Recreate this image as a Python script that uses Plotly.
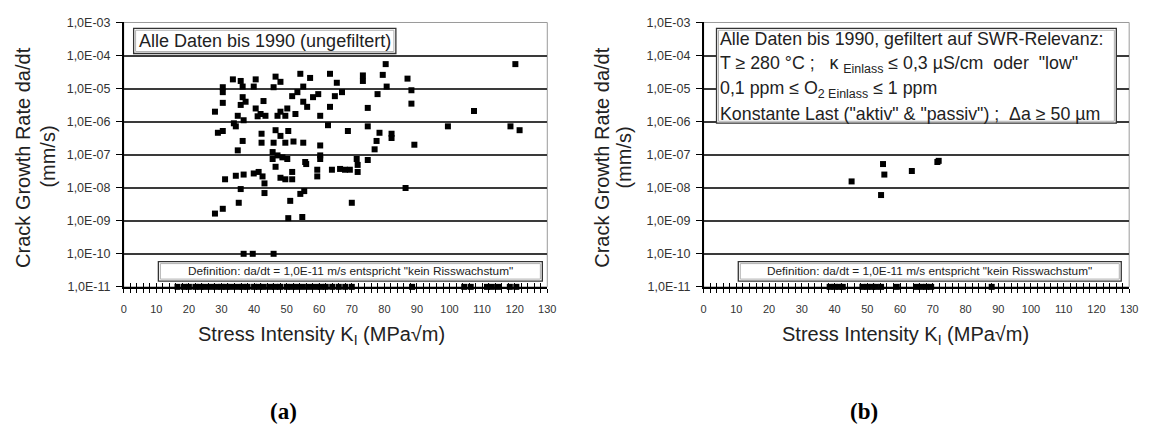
import plotly.graph_objects as go

W, H = 1156, 442

# ---------------- DATA ----------------
no_growth = 1.0e-11  # da/dt used for "kein Risswachstum"

# Panel (a): all data up to 1990 (unfiltered)
a_K = [80.4, 120.2, 79.5, 73.4, 73.4, 87.1, 80.7, 88.3, 77.9, 88.3,
       74.9, 107.5, 99.5, 118.7, 121.5, 74.9, 68.8, 78.5, 82.2, 82.2,
       89.2, 77.6, 77.0, 60.3, 62.7, 60.3, 71.5, 74.9,
       30.4, 30.4, 33.5, 35.9, 36.5, 40.5, 39.9, 46.6, 48.1, 46.0,
       54.2, 57.2, 55.1, 63.3, 65.4, 67.0, 64.8, 63.3, 51.7, 53.3,
       58.1, 59.7, 55.1, 56.3, 60.3, 48.1, 47.2, 49.6, 52.7, 50.2,
       42.9, 43.5, 42.0, 40.5, 37.4, 36.5, 30.4, 28.0, 35.0, 33.8,
       34.4, 36.8, 41.1, 28.9, 30.4, 36.5, 35.0, 42.3, 42.3, 46.6,
       50.5, 46.0, 49.6, 52.1, 55.1, 45.7, 47.2, 50.2, 55.7, 48.1,
       35.9,
       31.1, 34.4, 36.8, 39.9, 41.4, 42.6, 43.2, 43.2, 35.9, 35.3,
       28.0, 30.4, 46.6, 45.7, 48.7, 49.6, 48.1, 51.7, 51.7, 56.0,
       60.3, 59.4, 59.4, 63.9, 66.4, 67.9, 69.4, 71.8, 71.8, 54.2,
       55.4, 51.1, 54.8, 50.5, 70.0, 86.5,
       36.8, 39.6, 46.0]
a_rate = [5.5e-5, 5.5e-5, 2.6e-5, 2.5e-5, 1.7e-5, 2.0e-5, 1.15e-5, 8.9e-6, 6.8e-6, 3.5e-6,
          2.6e-6, 2.1e-6, 7.2e-7, 7.2e-7, 5.5e-7, 7.2e-7, 5.2e-7, 4.6e-7, 4.3e-7, 3.2e-7,
          2.0e-7, 2.6e-7, 1.45e-7, 1.9e-7, 7.8e-7, 9.5e-8, 7.4e-8, 6.9e-8,
          1.1e-5, 7.8e-6, 1.9e-5, 1.7e-5, 1.15e-5, 1.9e-5, 1.15e-5, 2.3e-5, 1.6e-5, 1.1e-5,
          2.8e-5, 2.1e-5, 1.15e-5, 2.8e-5, 1.5e-5, 7.8e-6, 5.9e-6, 2.8e-6, 5.9e-6, 7.8e-6,
          5.5e-6, 6.8e-6, 4.0e-6, 2.8e-6, 1.5e-6, 2.0e-6, 1.5e-6, 1.5e-6, 1.7e-6, 2.5e-6,
          4.2e-6, 1.5e-6, 1.7e-6, 2.5e-6, 4.0e-6, 5.5e-6, 3.7e-6, 2.0e-6, 1.5e-6, 8.9e-7,
          7.2e-7, 1.1e-6, 1.45e-6, 4.6e-7, 5.2e-7, 2.6e-7, 1.35e-7, 4.3e-7, 2.3e-7, 5.5e-7,
          5.2e-7, 2.3e-7, 2.3e-7, 2.5e-7, 2.3e-7, 1.2e-7, 9.5e-8, 7.4e-8, 6.0e-8, 3.7e-7,
          3.2e-6,
          1.8e-8, 2.3e-8, 2.5e-8, 2.7e-8, 3.0e-8, 2.2e-8, 1.35e-8, 6.9e-9, 9.1e-9, 3.5e-9,
          1.65e-9, 2.3e-9, 4.3e-8, 7.4e-8, 8.3e-8, 1.8e-8, 2.0e-8, 3.0e-8, 1.8e-8, 5.2e-8,
          7.4e-8, 3.5e-8, 2.2e-8, 3.5e-8, 3.7e-8, 3.5e-8, 3.5e-8, 4.9e-8, 3.0e-8, 6.5e-9,
          7.9e-9, 4.0e-9, 1.3e-9, 1.2e-9, 3.5e-9, 9.8e-9,
          1.0e-10, 1.0e-10, 1.0e-10]
# Panel (a): specimens without crack growth (plotted at 1,0E-11)
a_zero_K = [16.5, 18.5, 20.0, 22.0, 23.5, 25.0, 27.0, 28.5, 30.0, 31.5,
            33.0, 35.0, 36.5, 38.0, 40.0, 41.5, 43.0, 45.0, 46.5, 48.0,
            50.0, 51.5, 53.0, 55.0, 57.0, 59.0, 60.5, 62.0, 64.0, 66.0,
            68.0, 70.0, 88.5, 104.5, 106.5, 111.5, 113.0, 115.0, 118.5, 120.5]

# Panel (b): filtered for BWR relevance
b_K = [45.2, 54.8, 55.2, 54.2, 63.6, 71.8, 71.4]
b_rate = [1.55e-8, 5.2e-8, 2.5e-8, 6.0e-9, 3.2e-8, 6.5e-8, 6.0e-8]
b_zero_K = [38.5, 40.0, 41.5, 42.5, 48.5, 50.0, 51.5, 52.5, 54.2, 59.0,
            65.0, 66.5, 68.0, 69.5, 88.0]

y_tickvals = [1e-11, 1e-10, 1e-9, 1e-8, 1e-7, 1e-6, 1e-5, 1e-4, 1e-3]
y_ticktext = ["1,0E-11", "1,0E-10", "1,0E-09", "1,0E-08", "1,0E-07",
              "1,0E-06", "1,0E-05", "1,0E-04", "1,0E-03"]
x_range = [0, 130]

# ---------------- FIGURE ----------------
SANS = "Liberation Sans, Arial, sans-serif"
SERIF = "Liberation Serif, Times New Roman, serif"


def px(x):
    return x / W


def py(y):
    return 1 - y / H


dom_a = [px(122), px(550)]
dom_b = [px(708), px(1138)]
dom_y = [py(289), py(16)]

fig = go.Figure()
marker = dict(symbol="square", size=6, color="black", line=dict(width=0))
fig.add_trace(go.Scatter(x=a_K + a_zero_K, y=a_rate + [no_growth] * len(a_zero_K),
                         mode="markers", marker=marker, xaxis="x", yaxis="y",
                         cliponaxis=False, showlegend=False))
fig.add_trace(go.Scatter(x=b_K + b_zero_K, y=b_rate + [no_growth] * len(b_zero_K),
                         mode="markers", marker=marker, xaxis="x2", yaxis="y2",
                         cliponaxis=False, showlegend=False))
# empty traces that register the overlay axes (inside ticks)
fig.add_trace(go.Scatter(x=[], y=[], xaxis="x3", yaxis="y", showlegend=False))
fig.add_trace(go.Scatter(x=[], y=[], xaxis="x4", yaxis="y2", showlegend=False))

xcommon = dict(range=x_range, tickmode="linear", tick0=0, dtick=10,
               ticks="outside", ticklen=4, tickwidth=1, tickcolor="black",
               minor=dict(dtick=2, ticks="outside", ticklen=4, tickwidth=1, tickcolor="black"),
               showgrid=False, zeroline=False, showline=True, linecolor="black", linewidth=1.5,
               tickfont=dict(family=SANS, size=11, color="#333"), ticklabelstandoff=7)
xinside = dict(range=x_range, tickmode="linear", tick0=0, dtick=10,
               ticks="inside", ticklen=4, tickwidth=1, tickcolor="black",
               minor=dict(dtick=2, ticks="inside", ticklen=4, tickwidth=1, tickcolor="black"),
               showgrid=False, zeroline=False, showline=False, showticklabels=False)
ycommon = dict(type="log", range=[-11, -3], tickmode="array", tickvals=y_tickvals,
               ticktext=y_ticktext, ticks="outside", ticklen=6, tickwidth=1.2, tickcolor="black",
               showgrid=True, gridcolor="#3a3a3a", gridwidth=1.5, zeroline=False,
               showline=True, linecolor="black", linewidth=1.5,
               tickfont=dict(family=SANS, size=12.5, color="#333"), ticklabelstandoff=3)

fig.update_layout(
    width=W, height=H, margin=dict(l=0, r=0, t=0, b=0),
    paper_bgcolor="white", plot_bgcolor="white", showlegend=False,
    xaxis=dict(domain=dom_a, anchor="y", **xcommon),
    xaxis2=dict(domain=dom_b, anchor="y2", **xcommon),
    xaxis3=dict(domain=dom_a, anchor="y", overlaying="x", **xinside),
    xaxis4=dict(domain=dom_b, anchor="y2", overlaying="x2", **xinside),
    yaxis=dict(domain=dom_y, anchor="x", **ycommon),
    yaxis2=dict(domain=dom_y, anchor="x2", **ycommon),
)

shapes = []
# light grey frame (top / right)
for xr, yr in (("x domain", "y domain"), ("x2 domain", "y2 domain")):
    shapes.append(dict(type="rect", xref=xr, yref=yr, x0=0, x1=1, y0=0, y1=1,
                       line=dict(color="#9a9a9a", width=1), layer="below"))


def box(x0, y0, x1, y1):
    shapes.append(dict(type="rect", xref="paper", yref="paper",
                       x0=px(x0), x1=px(x1), y0=py(y1), y1=py(y0),
                       fillcolor="white", line=dict(color="#333", width=1.3), layer="above"))
    shapes.append(dict(type="rect", xref="paper", yref="paper",
                       x0=px(x0 + 2), x1=px(x1 - 2), y0=py(y1 - 2), y1=py(y0 + 2),
                       fillcolor="rgba(0,0,0,0)", line=dict(color="#b0b0b0", width=1), layer="above"))


box(132, 22, 397, 48)     # (a) legend box
box(157, 263, 545, 283)   # (a) definition box
box(721, 22, 1125, 120)   # (b) legend box
box(743, 263, 1130, 283)  # (b) definition box
fig.update_layout(shapes=shapes)

ann = []


def text(x, y, s, size, xanchor="left", angle=0, family=SANS, color="#222"):
    ann.append(dict(x=px(x), y=py(y), xref="paper", yref="paper", text=s, showarrow=False,
                    xanchor=xanchor, yanchor="middle", textangle=angle,
                    font=dict(family=family, size=size, color=color)))


NB = "\u00a0"
text(135, 35, "Alle Daten bis 1990 (ungefiltert)", 18)
text(351, 273, "Definition: da/dt = 1,0E-11 m/s entspricht \"kein Risswachstum\"", 11.8,
     xanchor="center")
text(936, 273, "Definition: da/dt = 1,0E-11 m/s entspricht \"kein Risswachstum\"", 11.8,
     xanchor="center")
text(723, 33, "Alle Daten bis 1990, gefiltert auf SWR-Relevanz:", 17.8)
text(723, 59, "T ≥ 280 °C ;" + NB * 3 + "κ <sub>Einlass</sub> ≤ 0,3 µS/cm" + NB * 2 + "oder" + NB * 2 + "\"low\"", 17.8)
text(723, 85, "0,1 ppm ≤ O<sub>2 Einlass</sub> ≤ 1 ppm", 17.8)
text(723, 110, "Konstante Last (\"aktiv\" &amp; \"passiv\") ;" + NB * 2 + "Δa ≥ 50 µm", 17.8)

# axis titles
for xl1, xl2 in ((20, 46), (605, 628)):
    text(xl1, 155, "Crack Growth Rate da/dt", 20, xanchor="center", angle=-90)
    text(xl2, 155, "(mm/s)", 20, xanchor="center", angle=-90)
text(322, 339, "Stress Intensity K<sub>I</sub> (MPa√m)", 20, xanchor="center")
text(912, 339, "Stress Intensity K<sub>I</sub> (MPa√m)", 20, xanchor="center")

text(283, 418, "<b>(a)</b>", 23, xanchor="center", family=SERIF, color="black")
text(870, 418, "<b>(b)</b>", 23, xanchor="center", family=SERIF, color="black")

fig.update_layout(annotations=ann)
fig.write_html("out.html")
